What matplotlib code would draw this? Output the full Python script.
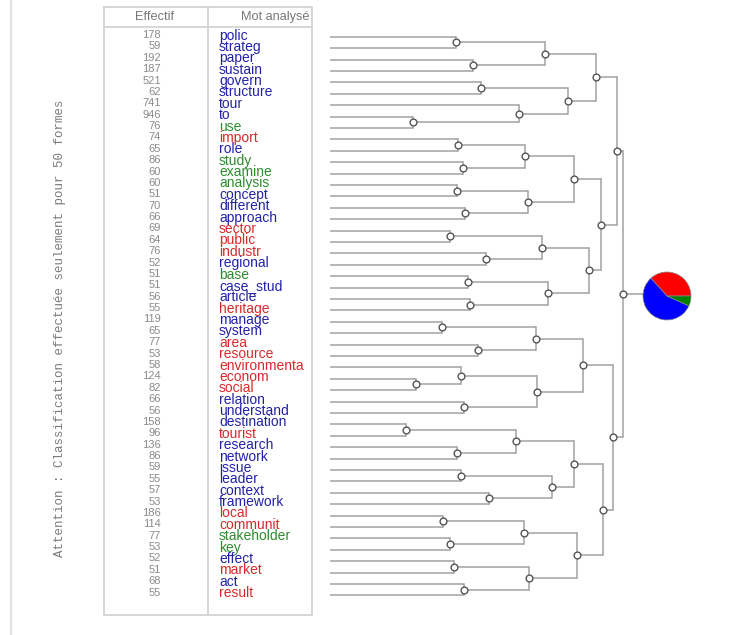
import numpy as np
import matplotlib
matplotlib.use("Agg")
import matplotlib.pyplot as plt

W, H = 743, 635

# word list, counts and class colour of each word (top to bottom)
words = ["polic", "strateg", "paper", "sustain", "govern", "structure", "tour", "to",
         "use", "import", "role", "study", "examine", "analysis", "concept", "different",
         "approach", "sector", "public", "industr", "regional", "base", "case_stud",
         "article", "heritage", "manage", "system", "area", "resource", "environmenta",
         "econom", "social", "relation", "understand", "destination", "tourist",
         "research", "network", "issue", "leader", "context", "framework", "local",
         "communit", "stakeholder", "key", "effect", "market", "act", "result"]
counts = [178, 59, 192, 187, 521, 62, 741, 946, 76, 74, 65, 86, 60, 60, 51, 70, 66, 69,
          64, 76, 52, 51, 51, 56, 55, 119, 65, 77, 53, 58, 124, 82, 66, 56, 158, 96, 136,
          86, 59, 55, 57, 53, 186, 114, 77, 53, 52, 51, 68, 55]
classes = "bbbbbbbbgrbgggbbbrrrbgbbrbbrrrrrbbbrbbbbbbrrggbrbr"

# merges: child a, child b, height (leaves are 0..49, new nodes numbered from 50)
merges = [
    (0, 1, 126), (2, 3, 143), (50, 51, 215), (4, 5, 151), (7, 8, 83), (6, 54, 189),
    (53, 55, 238), (52, 56, 266), (9, 10, 128), (11, 12, 133), (58, 59, 195),
    (13, 14, 127), (15, 16, 135), (61, 62, 198), (60, 63, 244), (17, 18, 120),
    (19, 20, 156), (65, 66, 212), (21, 22, 138), (23, 24, 140), (68, 69, 218),
    (67, 70, 259), (64, 71, 271), (57, 72, 287),
    (25, 26, 112), (27, 28, 148), (74, 75, 206), (30, 31, 86), (29, 77, 131),
    (32, 33, 134), (78, 79, 207), (76, 80, 253), (34, 35, 76), (36, 37, 127),
    (82, 83, 186), (38, 39, 131), (40, 41, 159), (85, 86, 222), (84, 87, 244),
    (42, 43, 113), (44, 45, 120), (89, 90, 194), (46, 47, 124), (48, 49, 134),
    (92, 93, 199), (91, 94, 247), (88, 95, 273), (81, 96, 283), (73, 97, 293),
]

pie_vals = [36.7, 56.6, 6.7]
pie_cols = ["#ff0000", "#0000ff", "#008000"]

word_col = {"b": "#2222a8", "r": "#d62a2a", "g": "#2e8c2e"}
n = len(words)

fig = plt.figure(figsize=(W / 100, H / 100), dpi=100)

# background in pixel coords
bg = fig.add_axes([0, 0, 1, 1])
bg.set_xlim(0, W)
bg.set_ylim(H, 0)
bg.axis("off")
bg.plot([11, 11], [0, H], color="#e2e2e2", lw=1.5)
bg.text(60, 328, "Attention : Classification effectuée seulement pour 50 formes",
        rotation=90, ha="center", va="center", fontsize=9.0,
        family=["Liberation Mono", "DejaVu Sans Mono"], color="#7a7a7a")

# table
tab = fig.add_axes([104 / W, 1 - 615 / H, (312 - 104) / W, (615 - 7) / H])
tab.set_xlim(104, 312)
tab.set_ylim(50.97, -2.46)
tab.axis("off")
lc = "#d0d0d0"
tab.plot([104, 312, 312, 104, 104], [-2.46, -2.46, 50.97, 50.97, -2.46], color=lc, lw=1.2, clip_on=False)
tab.plot([104, 312], [-0.70, -0.70], color=lc, lw=1.2)
tab.plot([208, 208], [-2.46, 50.97], color=lc, lw=1.2)
sans = ["Liberation Sans", "DejaVu Sans"]
tab.text(155, -1.6, "Effectif", ha="center", va="center", fontsize=9.2, family=sans, color="#777777")
tab.text(310, -1.6, "Mot analysé", ha="right", va="center", fontsize=9.2, family=sans, color="#777777")
for i in range(n):
    tab.text(161, i, str(counts[i]), ha="right", va="center", fontsize=8.0,
             family=sans, color="#8a8a8a")
    tab.text(219, i + 0.05, words[i], ha="left", va="center", fontsize=10.0,
             family=sans, color=word_col[classes[i]])

# dendrogram
den = fig.add_axes([330 / W, 1 - 601 / H, (643 - 330) / W, (601 - 31) / H])
den.set_xlim(0, 313)
den.set_ylim(n - 0.5, -0.5)
den.axis("off")
ypos = {i: float(i) for i in range(n)}
hgt = {i: 0.0 for i in range(n)}
line_c = "#a2a2a2"
nodes = []
for k, (a, b, h) in enumerate(merges):
    node = n + k
    ypos[node] = (ypos[a] + ypos[b]) / 2
    hgt[node] = h
    for c in (a, b):
        den.plot([hgt[c], h], [ypos[c], ypos[c]], color=line_c, lw=1.1, solid_capstyle="butt")
    den.plot([h, h], [ypos[a], ypos[b]], color=line_c, lw=1.1)
    nodes.append(node)
root = nodes[-1]
den.plot([hgt[root], 313], [ypos[root], ypos[root]], color=line_c, lw=1.1, clip_on=False)
den.scatter([hgt[k] for k in nodes], [ypos[k] for k in nodes], s=24, facecolor="white",
            edgecolor="#555555", linewidth=1.0, zorder=3, clip_on=False)

# class pie at the root
pax = fig.add_axes([643 / W, 1 - 320 / H, 48 / W, 48 / H])
pax.pie(pie_vals, colors=pie_cols, startangle=0, counterclock=True,
        wedgeprops=dict(edgecolor="#888888", linewidth=0.5))
pax.set_xlim(-1, 1)
pax.set_ylim(-1, 1)
pax.set_aspect("equal")

fig.savefig("out.png", dpi=100)
